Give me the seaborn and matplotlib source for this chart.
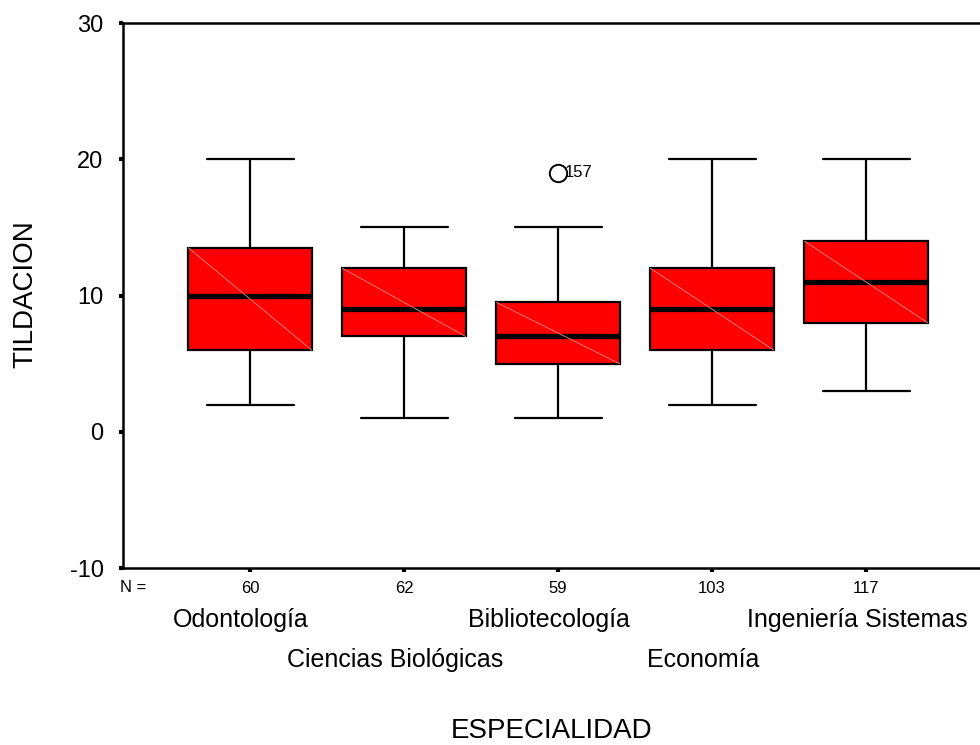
import matplotlib
matplotlib.use("Agg")
import matplotlib.pyplot as plt
import pandas as pd
import seaborn as sns
from matplotlib.transforms import blended_transform_factory, offset_copy

# ---- data ----
categories = ["Odontología", "Ciencias Biológicas", "Bibliotecología",
              "Economía", "Ingeniería Sistemas"]
n_counts = ["60", "62", "59", "103", "117"]
whisker_low = [2, 1, 1, 2, 3]
q1 = [6, 7, 5, 6, 8]
median = [10, 9, 7, 9, 11]
q3 = [13.5, 12, 9.5, 12, 14]
whisker_high = [20, 15, 15, 20, 20]
outlier_value = [None, None, 19, None, None]
outlier_label = [None, None, "157", None, None]
y_ticks = [-10, 0, 10, 20, 30]

# Build a small table whose quartiles/whiskers reproduce the summary values
rows = []
for i, cat in enumerate(categories):
    vals = [whisker_low[i], q1[i], q1[i], median[i], median[i], q3[i], q3[i],
            whisker_high[i]]
    vals.append(outlier_value[i] if outlier_value[i] is not None else whisker_high[i])
    for v in vals:
        rows.append({"ESPECIALIDAD": cat, "TILDACION": v})
df = pd.DataFrame(rows)

sns.set_theme(style="white")
plt.rcParams["font.family"] = ["Liberation Sans", "DejaVu Sans"]
plt.rcParams["text.color"] = "black"
plt.rcParams["xtick.color"] = "black"
plt.rcParams["ytick.color"] = "black"
plt.rcParams["xtick.labelcolor"] = "black"
plt.rcParams["ytick.labelcolor"] = "black"

fig = plt.figure(figsize=(9.8, 7.45), dpi=100)
ax = fig.add_axes([0.1255, 0.2375, 0.8745, 0.7315])

common = dict(
    data=df, x="ESPECIALIDAD", y="TILDACION", order=categories,
    color="#ff0000", saturation=1, width=0.8, linecolor="black",
    linewidth=1.6, whis=1.5,
    flierprops=dict(marker="o", markerfacecolor="none",
                    markeredgecolor="black", markersize=12.5,
                    markeredgewidth=1.4),
    medianprops=dict(color="black", linewidth=3.8),
    ax=ax,
)
try:
    sns.boxplot(capwidths=0.565, **common)
except TypeError:
    sns.boxplot(**common)

# faint diagonal rendering line inside each box (as in the reference)
for i in range(len(categories)):
    ax.plot([i - 0.4, i + 0.4], [q3[i], q1[i]], color="#ff8a8a",
            linewidth=0.6, zorder=2.5)

# outlier case label
for i, lab in enumerate(outlier_label):
    if lab is not None:
        ax.annotate(lab, (i, outlier_value[i]), xytext=(4.5, 0),
                    textcoords="offset points", ha="left", va="center",
                    fontsize=12, color="black")

ax.set_xlim(-0.825, 4.74)
ax.set_ylim(-10, 30)
ax.set_yticks(y_ticks)
ax.set_yticklabels([str(t) for t in y_ticks], fontsize=17)
ax.set_xticks(range(len(categories)))
ax.set_xticklabels(n_counts, fontsize=12)

for s in ["top", "left", "bottom"]:
    ax.spines[s].set_visible(True)
    ax.spines[s].set_color("black")
    ax.spines[s].set_linewidth(1.8)
ax.spines["right"].set_visible(False)

ax.tick_params(axis="y", direction="out", length=3, width=3, pad=11,
               color="black", labelcolor="black", left=True)
ax.tick_params(axis="x", direction="out", length=3, width=3, pad=6,
               color="black", labelcolor="black", bottom=True)

ax.set_xlabel("")
ax.set_ylabel("")

# "N =" label and category names in two staggered rows
trans = blended_transform_factory(ax.transData, fig.transFigure)
trans = offset_copy(trans, fig=fig, x=-9, y=0, units="dots")
fig.text(133 / 980, 1 - 587 / 745, "N =", fontsize=12, ha="center",
         va="center", color="black")
for i, cat in enumerate(categories):
    ypix = 620 if i % 2 == 0 else 660
    ax.text(i, 1 - ypix / 745, cat, transform=trans, fontsize=18,
            ha="center", va="center", color="black")

fig.text(25 / 980, 1 - 294 / 745, "TILDACION", rotation=90, fontsize=20,
         ha="center", va="center", color="black")
fig.text(552 / 980, 1 - 731 / 745, "ESPECIALIDAD", fontsize=20,
         ha="center", va="center", color="black")

fig.savefig("out.png", dpi=100, facecolor="white")
